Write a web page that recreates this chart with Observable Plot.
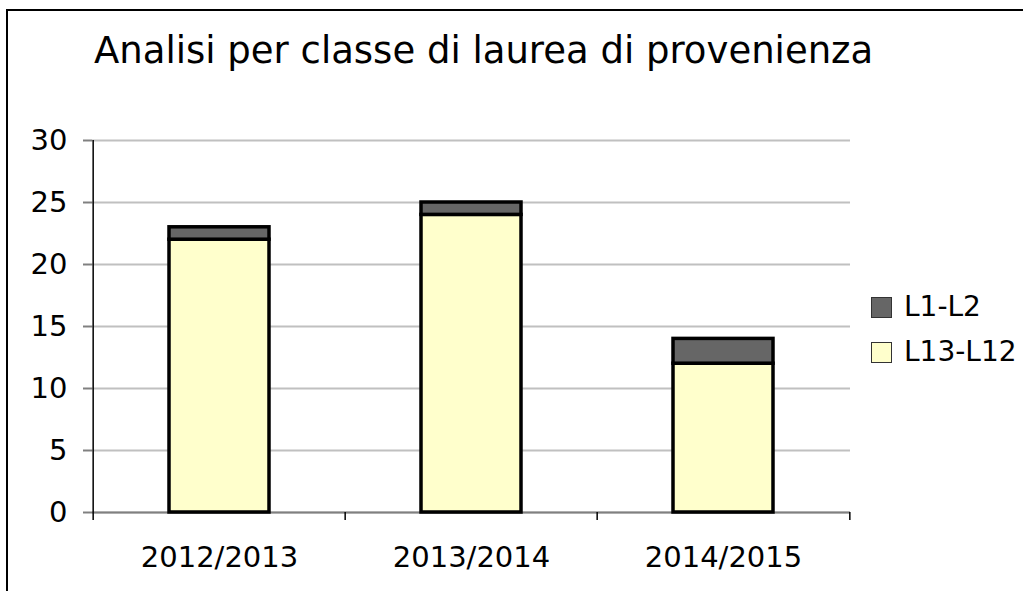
<!DOCTYPE html>
<html>
<head>
<meta charset="utf-8">
<script src="https://cdn.jsdelivr.net/npm/d3@7"></script>
<script src="https://cdn.jsdelivr.net/npm/@observablehq/plot@0.6"></script>
<style>
  html, body { margin: 0; padding: 0; background: #fff; overflow: hidden; }
  #wrap { position: relative; width: 1023px; height: 591px; font-family: "DejaVu Sans", Verdana, sans-serif; }
  #frame { position: absolute; left: 6px; top: 9px; width: 1200px; height: 800px; border-left: 2px solid #000; border-top: 2px solid #000; }
  #title { position: absolute; left: 94px; top: 32px; font-size: 37px; line-height: 1; color: #000; white-space: nowrap; }
  #legend { position: absolute; left: 871px; top: 292px; font-size: 28px; line-height: 1; color: #000; }
  .row { display: flex; align-items: center; height: 30px; margin-bottom: 15px; }
  .sw { width: 21px; height: 21px; border: 1px solid #333; margin-right: 12px; box-sizing: border-box; }
  #chart { position: absolute; left: 0; top: 0; }
</style>
</head>
<body>
<div id="wrap">
  <div id="frame"></div>
  <div id="chart"></div>
  <div id="title">Analisi per classe di laurea di provenienza</div>
  <div id="legend"></div>
</div>
<script>
const categories = ["2012/2013", "2013/2014", "2014/2015"];
const seriesNames = ["L13-L12", "L1-L2"];
const seriesL13L12 = [22, 24, 12];
const seriesL1L2 = [1, 1, 2];
const yTicks = [0, 5, 10, 15, 20, 25, 30];
const seriesColors = ["#FFFFCC", "#666666"];
const legendOrder = ["L1-L2", "L13-L12"];

const data = categories.flatMap((c, i) => [
  {cat: c, series: "L13-L12", value: seriesL13L12[i]},
  {cat: c, series: "L1-L2", value: seriesL1L2[i]}
]);

const W = 1023, H = 591, ML = 92, MR = 173, MT = 140, MB = 79;
const step = (W - ML - MR) / categories.length;

const chart = Plot.plot({
  width: W, height: H,
  marginLeft: ML, marginRight: MR, marginTop: MT, marginBottom: MB,
  style: {fontFamily: "DejaVu Sans, Verdana, sans-serif", fontSize: "29px", background: "transparent", color: "#000", overflow: "visible"},
  x: {domain: categories, padding: 0, label: null},
  y: {domain: [0, 30], label: null},
  color: {domain: seriesNames, range: seriesColors},
  marks: [
    Plot.gridY(yTicks, {stroke: "#c0c0c0", strokeOpacity: 1, strokeWidth: 2}),
    Plot.axisY(yTicks, {label: null, tickSize: 9, tickPadding: 16, stroke: "#808080", strokeWidth: 2, fontSize: 29, fill: "#000"}),
    Plot.ruleY([0], {stroke: "#808080", strokeWidth: 2}),
    Plot.barY(data, {x: "cat", y: "value", fill: "series", stroke: "#000", strokeWidth: 3.5, insetLeft: 76, insetRight: 76}),
    Plot.ruleX([categories[0]], {y1: 0, y2: 30, dx: -step / 2, stroke: "#000", strokeWidth: 1.5}),
    Plot.axisX(categories, {label: null, tickSize: 8, tickFormat: () => "", dx: -step / 2, stroke: "#000", strokeWidth: 1.5}),
    Plot.axisX([categories[categories.length - 1]], {label: null, tickSize: 8, tickFormat: () => "", dx: step / 2, stroke: "#000", strokeWidth: 1.5}),
    Plot.axisX(categories, {label: null, tickSize: 0, tickPadding: 34, fontSize: 29, fill: "#000"})
  ]
});
document.getElementById("chart").appendChild(chart);

const leg = document.getElementById("legend");
legendOrder.forEach(name => {
  const row = document.createElement("div");
  row.className = "row";
  const sw = document.createElement("div");
  sw.className = "sw";
  sw.style.background = seriesColors[seriesNames.indexOf(name)];
  const t = document.createElement("span");
  t.textContent = name;
  row.appendChild(sw); row.appendChild(t);
  leg.appendChild(row);
});
</script>
</body>
</html>
